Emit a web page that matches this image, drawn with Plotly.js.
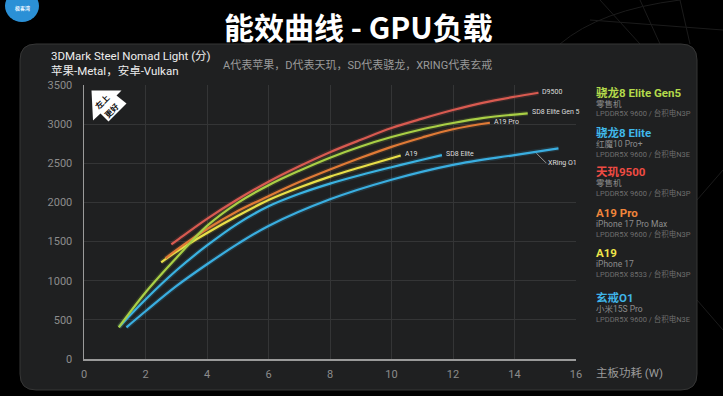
<!DOCTYPE html>
<html><head><meta charset="utf-8">
<script src="https://cdn.plot.ly/plotly-3.0.1.min.js"></script>
<style>html,body{margin:0;padding:0;background:#000;}#chart{width:723px;height:396px;}</style>
</head><body><div id="chart"></div>
<script>
// ---- data ----
const gen5X = [1.13, 2, 3, 4, 5, 6, 7, 8, 9, 10, 11, 12, 13, 14.43];
const gen5Y = [405, 850, 1290, 1700, 1995, 2220, 2405, 2572, 2715, 2835, 2935, 3015, 3080, 3138];
const d9500X = [2.84, 3, 4, 5, 6, 7, 8, 9, 10, 11, 12, 13, 14, 14.78];
const d9500Y = [1465, 1510, 1790, 2040, 2265, 2462, 2642, 2800, 2950, 3070, 3180, 3275, 3350, 3401];
const a19proX = [2.65, 3, 4, 5, 6, 7, 8, 9, 10, 11, 12, 13.2];
const a19proY = [1286, 1390, 1660, 1890, 2080, 2260, 2420, 2570, 2710, 2830, 2935, 3018];
const a19X = [2.51, 3, 4, 5, 6, 7, 8, 9, 10, 10.3];
const a19Y = [1235, 1370, 1610, 1830, 2030, 2190, 2330, 2450, 2565, 2600];
const sd8X = [1.14, 2, 3, 4, 5, 6, 7, 8, 9, 10, 11, 11.64];
const sd8Y = [409, 760, 1130, 1450, 1730, 1950, 2110, 2240, 2350, 2450, 2545, 2605];
const xringX = [1.38, 2, 3, 4, 5, 6, 8, 10, 12, 14, 15.43];
const xringY = [405, 610, 930, 1210, 1470, 1700, 2040, 2290, 2480, 2605, 2691];

const endLabels = ["D9500", "SD8 Elite Gen 5", "A19 Pro", "A19", "SD8 Elite", "XRing O1"];
const xTicks = [0, 2, 4, 6, 8, 10, 12, 14, 16];
const yTicks = [0, 500, 1000, 1500, 2000, 2500, 3000, 3500];

const legendNames = ["骁龙8 Elite Gen5", "骁龙8 Elite", "天玑9500", "A19 Pro", "A19", "玄戒O1"];
const legendDevices = ["零售机", "红魔10 Pro+", "零售机", "iPhone 17 Pro Max", "iPhone 17", "小米15S Pro"];
const legendSpecs = ["LPDDR5X 9600 / 台积电N3P", "LPDDR5X 9600 / 台积电N3E", "LPDDR5X 9600 / 台积电N3P",
                     "LPDDR5X 9600 / 台积电N3P", "LPDDR5X 8533 / 台积电N3P", "LPDDR5X 9600 / 台积电N3E"];

// ---- styling ----
const FONT = "Roboto, 'Noto Sans CJK SC', sans-serif";
const CJK = "'Noto Sans CJK SC', Roboto, sans-serif";
const M = {l: 84, r: 147, t: 85, b: 37};
const W = 723 - M.l - M.r, H = 396 - M.t - M.b;
const px = v => (v - M.l) / W;
const py = v => (396 - M.b - v) / H;

const series = [
  {x: xringX, y: xringY, c: "#3aaee0"},
  {x: sd8X, y: sd8Y, c: "#3bb3e2"},
  {x: a19X, y: a19Y, c: "#e8df48"},
  {x: a19proX, y: a19proY, c: "#e07a36"},
  {x: gen5X, y: gen5Y, c: "#a9cf45"},
  {x: d9500X, y: d9500Y, c: "#d85a50"},
];
const traces = [];
series.forEach(s => {
  traces.push({x: s.x, y: s.y, type: "scatter", mode: "lines", hoverinfo: "skip",
    line: {color: s.c, width: 5, shape: "spline", smoothing: 1}, opacity: 0.15});
});
series.forEach(s => {
  traces.push({x: s.x, y: s.y, type: "scatter", mode: "lines", hoverinfo: "skip",
    line: {color: s.c, width: 2.2, shape: "spline", smoothing: 1}});
});

function interp(xs, ys, x) {
  for (let i = 0; i < xs.length - 1; i++) {
    if (x >= xs[i] && x <= xs[i + 1]) {
      const t = (x - xs[i]) / (xs[i + 1] - xs[i]);
      return ys[i] + t * (ys[i + 1] - ys[i]);
    }
  }
  return ys[ys.length - 1];
}
const last = a => a[a.length - 1];

const annotations = [];
const lblFont = {family: FONT, size: 7, color: "#dddddd"};
[[d9500X, d9500Y, 0], [gen5X, gen5Y, 1], [a19proX, a19proY, 2], [a19X, a19Y, 3], [sd8X, sd8Y, 4]].forEach(([xs, ys, i]) => {
  annotations.push({x: last(xs), y: last(ys), xref: "x", yref: "y", text: endLabels[i], showarrow: false,
    xanchor: "left", yanchor: "middle", xshift: 2, yshift: 1, font: lblFont});
});
const xrLeader = 14.67;
annotations.push({x: xrLeader, y: interp(xringX, xringY, xrLeader), xref: "x", yref: "y", text: endLabels[5],
  showarrow: true, arrowhead: 0, arrowwidth: 0.8, arrowcolor: "#bbbbbb", ax: 11, ay: 11,
  xanchor: "left", yanchor: "middle", font: lblFont, standoff: 2});

// header texts
annotations.push({xref: "paper", yref: "paper", x: px(358), y: py(26), text: "<b>能效曲线 - GPU负载</b>", showarrow: false,
  xanchor: "center", yanchor: "middle", font: {family: CJK, size: 30, color: "#ffffff"}});
annotations.push({xref: "paper", yref: "paper", x: px(49), y: py(56), text: "3DMark Steel Nomad Light (分)", showarrow: false,
  xanchor: "left", yanchor: "middle", font: {family: FONT, size: 11.5, color: "#eeeeee"}});
annotations.push({xref: "paper", yref: "paper", x: px(49), y: py(71), text: "苹果-Metal，安卓-Vulkan", showarrow: false,
  xanchor: "left", yanchor: "middle", font: {family: FONT, size: 11.5, color: "#eeeeee"}});
annotations.push({xref: "paper", yref: "paper", x: px(221), y: py(65), text: "A代表苹果，D代表天玑，SD代表骁龙，XRING代表玄戒", showarrow: false,
  xanchor: "left", yanchor: "middle", font: {family: FONT, size: 11, color: "#9a9a9a"}});
annotations.push({xref: "paper", yref: "paper", x: px(594), y: py(373), text: "主板功耗 (W)", showarrow: false,
  xanchor: "left", yanchor: "middle", font: {family: FONT, size: 11.5, color: "#9a9a9a"}});
annotations.push({xref: "paper", yref: "paper", x: px(102), y: py(101.5), text: "<b>左上</b>", showarrow: false, textangle: -45,
  xanchor: "center", yanchor: "middle", font: {family: CJK, size: 8, color: "#111"}});
annotations.push({xref: "paper", yref: "paper", x: px(111), y: py(110), text: "<b>更好</b>", showarrow: false, textangle: -45,
  xanchor: "center", yanchor: "middle", font: {family: CJK, size: 8, color: "#111"}});
annotations.push({xref: "paper", yref: "paper", x: px(22), y: py(8), text: "<b>极客湾</b>", showarrow: false,
  xanchor: "center", yanchor: "middle", font: {family: CJK, size: 5, color: "#e8f4ff"}});

const legColors = ["#b4da4b", "#40b8ea", "#ef4b43", "#f0853b", "#eee449", "#3fb5e8"];
const legY = [93, 133, 172, 213, 253, 298];
legendNames.forEach((n, i) => {
  annotations.push({xref: "paper", yref: "paper", x: px(594), y: py(legY[i]), text: "<b>" + n + "</b>", showarrow: false,
    xanchor: "left", yanchor: "middle", font: {family: FONT, size: 11.5, color: legColors[i]}});
  annotations.push({xref: "paper", yref: "paper", x: px(594), y: py(legY[i] + 10.5), text: legendDevices[i], showarrow: false,
    xanchor: "left", yanchor: "middle", font: {family: FONT, size: 8.5, color: "#8c8c8c"}});
  annotations.push({xref: "paper", yref: "paper", x: px(594), y: py(legY[i] + 20.5), text: legendSpecs[i], showarrow: false,
    xanchor: "left", yanchor: "middle", font: {family: FONT, size: 7.5, color: "#6f6f6f"}});
});

function rr(x0, y0, x1, y1, r) {
  const P = (a, b) => px(a) + "," + py(b);
  return "M" + P(x0 + r, y0) + " L" + P(x1 - r, y0) + " Q" + P(x1, y0) + " " + P(x1, y0 + r) +
    " L" + P(x1, y1 - r) + " Q" + P(x1, y1) + " " + P(x1 - r, y1) + " L" + P(x0 + r, y1) +
    " Q" + P(x0, y1) + " " + P(x0, y1 - r) + " L" + P(x0, y0 + r) + " Q" + P(x0, y0) + " " + P(x0 + r, y0) + " Z";
}
function poly(pts) {
  return "M" + pts.map(p => px(p[0]) + "," + py(p[1])).join(" L") + " Z";
}
function seg(x0, y0, x1, y1) { return "M" + px(x0) + "," + py(y0) + " L" + px(x1) + "," + py(y1); }
const deco = {color: "#1b1b1b", width: 1};
const shapes = [
  {type: "path", xref: "paper", yref: "paper", layer: "below", path: "M" + px(560) + "," + py(44) + " Q" + px(600) + "," + py(10) + " " + px(680) + "," + py(0), line: deco},
  {type: "path", xref: "paper", yref: "paper", layer: "below", path: seg(600, 0, 640, 44), line: deco},
  {type: "path", xref: "paper", yref: "paper", layer: "below", path: seg(640, 0, 660, 44), line: deco},
  {type: "path", xref: "paper", yref: "paper", layer: "below", path: seg(680, 0, 690, 44), line: deco},
  {type: "path", xref: "paper", yref: "paper", layer: "below", path: seg(590, 20, 723, 30), line: deco},
  {type: "path", xref: "paper", yref: "paper", layer: "below", path: seg(697, 200, 723, 170), line: deco},
  {type: "path", xref: "paper", yref: "paper", layer: "below", path: seg(697, 300, 723, 330), line: deco},
  {type: "path", xref: "paper", yref: "paper", layer: "below", path: rr(20, 44, 697, 390, 16),
    fillcolor: "#1f2021", line: {color: "#363636", width: 1}},
  {type: "path", xref: "paper", yref: "paper", layer: "above",
    path: poly([[91.5, 90.5], [121.5, 90.5], [116.5, 95.5], [126.5, 103.5], [108.5, 121.5], [100.5, 113.5], [93, 120.5]]),
    fillcolor: "#ffffff", line: {width: 0}},
  {type: "circle", xref: "paper", yref: "paper", layer: "below", x0: px(5), x1: px(39), y0: py(-10), y1: py(22),
    fillcolor: "#2b90d6", line: {width: 0}},
];

const layout = {
  width: 723, height: 396, margin: M,
  paper_bgcolor: "#000000", plot_bgcolor: "rgba(0,0,0,0)",
  showlegend: false,
  font: {family: FONT, color: "#8c8c8c"},
  xaxis: {range: [0, 16], tickvals: xTicks, ticktext: xTicks.map(String), showgrid: true, gridcolor: "#343536", gridwidth: 1,
    zeroline: false, showline: true, linecolor: "#9a9a9a", linewidth: 1.5, ticks: "", ticklabelstandoff: 4,
    tickfont: {family: FONT, size: 11, color: "#8c8c8c"}, fixedrange: true},
  yaxis: {range: [0, 3500], tickvals: yTicks, ticktext: yTicks.map(String), showgrid: true, gridcolor: "#343536", gridwidth: 1,
    zeroline: false, showline: true, linecolor: "#9a9a9a", linewidth: 1.5, ticks: "", ticklabelstandoff: 8,
    tickfont: {family: FONT, size: 11, color: "#8c8c8c"}, fixedrange: true},
  annotations: annotations, shapes: shapes,
};
Plotly.newPlot("chart", traces, layout, {staticPlot: true, displayModeBar: false});
</script></body></html>
